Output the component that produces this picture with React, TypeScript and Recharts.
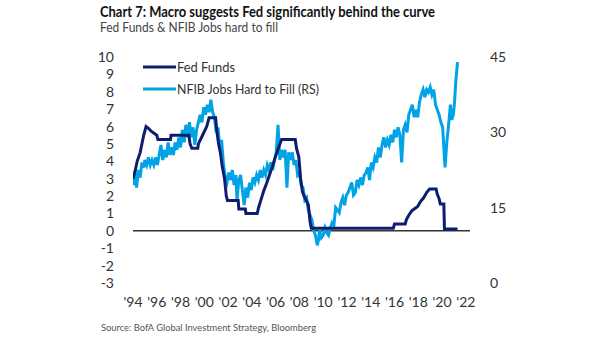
import React from 'react';
import { ComposedChart, Line, ReferenceLine, XAxis, YAxis } from 'recharts';

// [year, effective fed funds rate %]
const fedFunds: [number, number][] = [
    [1994.0, 3.0], [1994.2, 3.5], [1994.35, 4.0], [1994.6, 4.5], [1994.9, 5.5],
    [1995.1, 6.0], [1995.3, 5.9], [1995.5, 5.75], [1996.0, 5.5], [1996.1, 5.25],
    [1997.15, 5.25], [1997.2, 5.5], [1998.7, 5.5], [1998.8, 5.0], [1998.95, 4.75],
    [1999.45, 4.75], [1999.5, 5.0], [1999.85, 5.5], [2000.2, 6.0], [2000.4, 6.5],
    [2000.95, 6.5], [2001.05, 5.75], [2001.2, 5.0], [2001.35, 4.5], [2001.5, 3.75],
    [2001.7, 3.0], [2001.85, 2.0], [2001.95, 1.75], [2002.85, 1.75], [2002.9, 1.25],
    [2003.45, 1.25], [2003.5, 1.0], [2004.45, 1.0], [2004.55, 1.3], [2004.75, 1.75],
    [2005.0, 2.3], [2005.25, 2.75], [2005.5, 3.25], [2005.75, 3.75], [2006.0, 4.3],
    [2006.25, 4.8], [2006.5, 5.25], [2007.65, 5.25], [2007.75, 4.75], [2007.95, 4.25],
    [2008.1, 3.0], [2008.25, 2.25], [2008.4, 2.0], [2008.75, 1.5], [2008.9, 0.5],
    [2009.0, 0.15], [2015.9, 0.15], [2016.0, 0.4], [2016.9, 0.4], [2017.0, 0.65],
    [2017.2, 0.9], [2017.45, 1.15], [2017.95, 1.4], [2018.2, 1.7], [2018.45, 1.9],
    [2018.7, 2.2], [2018.95, 2.4], [2019.5, 2.4], [2019.6, 2.1], [2019.75, 1.85],
    [2019.85, 1.55], [2020.15, 1.55], [2020.2, 0.1], [2021.3, 0.1],
];

// [year, % of firms with jobs hard to fill] (right scale)
const nfibHardToFill: [number, number][] = [
    [1994.0, 21], [1994.1, 19.5], [1994.2, 22], [1994.3, 19], [1994.45, 22.5],
    [1994.6, 21], [1994.75, 24], [1994.9, 23], [1995.0, 24.5], [1995.15, 23.5],
    [1995.3, 25], [1995.45, 23.5], [1995.6, 24.5], [1995.75, 23.5], [1995.9, 25],
    [1996.05, 23.5], [1996.2, 25.5], [1996.35, 27.5], [1996.5, 24.5], [1996.65, 26.5],
    [1996.8, 25], [1996.95, 28], [1997.1, 25.5], [1997.25, 27], [1997.4, 25.5],
    [1997.55, 28], [1997.7, 26.5], [1997.85, 29], [1998.0, 27], [1998.15, 30.5],
    [1998.3, 28], [1998.45, 31.5], [1998.6, 29], [1998.75, 32], [1998.9, 29],
    [1999.05, 31], [1999.2, 27.5], [1999.35, 30.5], [1999.5, 32], [1999.65, 33.5],
    [1999.8, 32], [1999.95, 35], [2000.1, 33.5], [2000.25, 35.5], [2000.4, 34],
    [2000.55, 36.5], [2000.7, 34], [2000.85, 33], [2001.0, 30], [2001.15, 31],
    [2001.3, 27], [2001.45, 28.5], [2001.6, 24], [2001.75, 21], [2001.9, 20],
    [2002.05, 22], [2002.2, 20.5], [2002.35, 22.5], [2002.5, 19.5], [2002.65, 21.5],
    [2002.75, 16.5], [2002.9, 20.5], [2003.05, 21.5], [2003.2, 18.5], [2003.35, 15.5],
    [2003.5, 19], [2003.65, 17], [2003.8, 20], [2003.95, 18.5], [2004.1, 21],
    [2004.25, 20], [2004.4, 21.5], [2004.55, 20.5], [2004.7, 22.5], [2004.85, 21],
    [2005.0, 22.5], [2005.15, 21.5], [2005.3, 23.5], [2005.45, 22.5], [2005.6, 24],
    [2005.75, 22.5], [2005.9, 24.5], [2006.05, 26], [2006.2, 31.5], [2006.35, 24.5],
    [2006.5, 26.5], [2006.65, 25], [2006.8, 26.5], [2006.95, 19], [2007.1, 26],
    [2007.25, 24.5], [2007.4, 26], [2007.55, 23.5], [2007.7, 24.5], [2007.85, 21.5],
    [2008.0, 22], [2008.15, 19.5], [2008.3, 19], [2008.45, 16.5], [2008.6, 17],
    [2008.75, 14.5], [2008.9, 13.5], [2009.05, 12.5], [2009.2, 10.5], [2009.35, 9.5],
    [2009.5, 7.5], [2009.6, 8.5], [2009.7, 10.5], [2009.85, 9], [2010.0, 9.5],
    [2010.15, 11], [2010.3, 10], [2010.45, 9.5], [2010.6, 11], [2010.75, 12],
    [2010.9, 11.5], [2011.05, 15], [2011.2, 14.5], [2011.35, 14], [2011.5, 16],
    [2011.65, 17], [2011.8, 15.5], [2011.95, 17.5], [2012.1, 18], [2012.25, 19],
    [2012.4, 20], [2012.55, 17.5], [2012.7, 18], [2012.85, 20.5], [2013.0, 19.5],
    [2013.15, 21], [2013.3, 19.5], [2013.45, 21.5], [2013.6, 22], [2013.75, 23],
    [2013.9, 20.5], [2014.05, 24], [2014.2, 23], [2014.35, 25], [2014.5, 24],
    [2014.65, 27], [2014.8, 25], [2014.95, 27.5], [2015.1, 29], [2015.25, 27],
    [2015.4, 28.5], [2015.55, 27.5], [2015.7, 29.5], [2015.85, 28], [2016.0, 30.5],
    [2016.15, 29], [2016.3, 31], [2016.45, 29.5], [2016.6, 24], [2016.75, 30.5],
    [2016.9, 31.5], [2017.05, 30], [2017.2, 33.5], [2017.35, 34.5], [2017.5, 35.5],
    [2017.65, 33], [2017.8, 34.5], [2017.95, 33], [2018.1, 36], [2018.25, 37.5],
    [2018.4, 38.5], [2018.55, 37], [2018.7, 38.5], [2018.85, 38], [2019.0, 39],
    [2019.15, 37.5], [2019.3, 38.5], [2019.45, 35.5], [2019.6, 34.5], [2019.75, 33.5],
    [2019.9, 32], [2020.05, 31], [2020.15, 27], [2020.25, 23], [2020.4, 28],
    [2020.55, 31.5], [2020.7, 35.5], [2020.8, 32.5], [2020.95, 33.5], [2021.05, 36],
    [2021.15, 40], [2021.3, 44],
];

const yearTicks = [1994, 1996, 1998, 2000, 2002, 2004, 2006, 2008, 2010, 2012, 2014, 2016, 2018, 2020, 2022];
const leftTicks = [-3, -2, -1, 0, 1, 2, 3, 4, 5, 6, 7, 8, 9, 10];
const rightTicks = [0, 15, 30, 45];

const FED_COLOR = '#0c1f6e';
const NFIB_COLOR = '#00a3e6';
const FONT = 'Lato, "Open Sans", Arial, sans-serif';

const fedData = fedFunds.map(([x, v]) => ({ x, fed: v }));
const nfibData = nfibHardToFill.map(([x, v]) => ({ x, nfib: v }));

const legendItems = [
    { label: 'Fed Funds', color: FED_COLOR, y: 67, len: 58 },
    { label: 'NFIB Jobs Hard to Fill (RS)', color: NFIB_COLOR, y: 89, len: 142 },
];

// title, subtitle, legend and source drawn as svg text so widths can be pinned
function Overlay() {
    return (
        <svg
            width={605}
            height={341}
            style={{ position: 'absolute', left: 0, top: 0, pointerEvents: 'none' }}
            fontFamily={FONT}
        >
            <text
                x={100}
                y={17}
                fontSize={14.5}
                fontWeight={700}
                fill="#111"
                textLength={335}
                lengthAdjust="spacingAndGlyphs"
            >
                Chart 7: Macro suggests Fed significantly behind the curve
            </text>
            <text
                x={100}
                y={32}
                fontSize={13}
                fill="#444"
                textLength={178}
                lengthAdjust="spacingAndGlyphs"
            >
                Fed Funds &amp; NFIB Jobs hard to fill
            </text>
            {legendItems.map((item) => (
                <g key={item.label}>
                    <line
                        x1={143}
                        x2={176}
                        y1={item.y}
                        y2={item.y}
                        stroke={item.color}
                        strokeWidth={3}
                    />
                    <text
                        x={177}
                        y={item.y + 5}
                        fontSize={14}
                        fill="#333"
                        textLength={item.len}
                        lengthAdjust="spacingAndGlyphs"
                    >
                        {item.label}
                    </text>
                </g>
            ))}
            <text
                x={101}
                y={331}
                fontSize={10}
                fill="#555"
                textLength={215}
                lengthAdjust="spacingAndGlyphs"
            >
                Source: BofA Global Investment Strategy, Bloomberg
            </text>
        </svg>
    );
}

export default function App() {
    const tickStyle = { fontSize: 14, fill: '#333', fontFamily: FONT };
    return (
        <div
            style={{
                position: 'fixed',
                left: 0,
                top: 0,
                width: 605,
                height: 341,
                background: '#fff',
                fontFamily: FONT,
            }}
        >
            <ComposedChart
                width={605}
                height={341}
                margin={{ top: 57, right: 95, bottom: 28, left: 93 }}
                style={{ position: 'absolute', left: 0, top: 0 }}
            >
                <XAxis
                    xAxisId="t"
                    dataKey="x"
                    type="number"
                    domain={[1994, 2022.35]}
                    ticks={yearTicks}
                    tickFormatter={(y: number) => "'" + String(y).slice(2)}
                    axisLine={false}
                    tickLine={false}
                    tick={tickStyle}
                    tickMargin={8}
                    height={30}
                    interval={0}
                    allowDataOverflow
                />
                <YAxis
                    yAxisId="left"
                    domain={[-3, 10]}
                    ticks={leftTicks}
                    axisLine={false}
                    tickLine={false}
                    tick={tickStyle}
                    width={40}
                    interval={0}
                    tickMargin={13}
                />
                <YAxis
                    yAxisId="right"
                    orientation="right"
                    domain={[0, 45]}
                    ticks={rightTicks}
                    axisLine={false}
                    tickLine={false}
                    tick={tickStyle}
                    width={40}
                    interval={0}
                    tickMargin={14}
                />
                <ReferenceLine
                    xAxisId="t"
                    yAxisId="left"
                    y={0}
                    stroke="#333"
                    strokeWidth={1.5}
                />
                <Line
                    xAxisId="t"
                    yAxisId="right"
                    data={nfibData}
                    dataKey="nfib"
                    stroke={NFIB_COLOR}
                    strokeWidth={3}
                    dot={false}
                    type="linear"
                    isAnimationActive={false}
                />
                <Line
                    xAxisId="t"
                    yAxisId="left"
                    data={fedData}
                    dataKey="fed"
                    stroke={FED_COLOR}
                    strokeWidth={3}
                    dot={false}
                    type="linear"
                    isAnimationActive={false}
                />
            </ComposedChart>
            <Overlay />
        </div>
    );
}
